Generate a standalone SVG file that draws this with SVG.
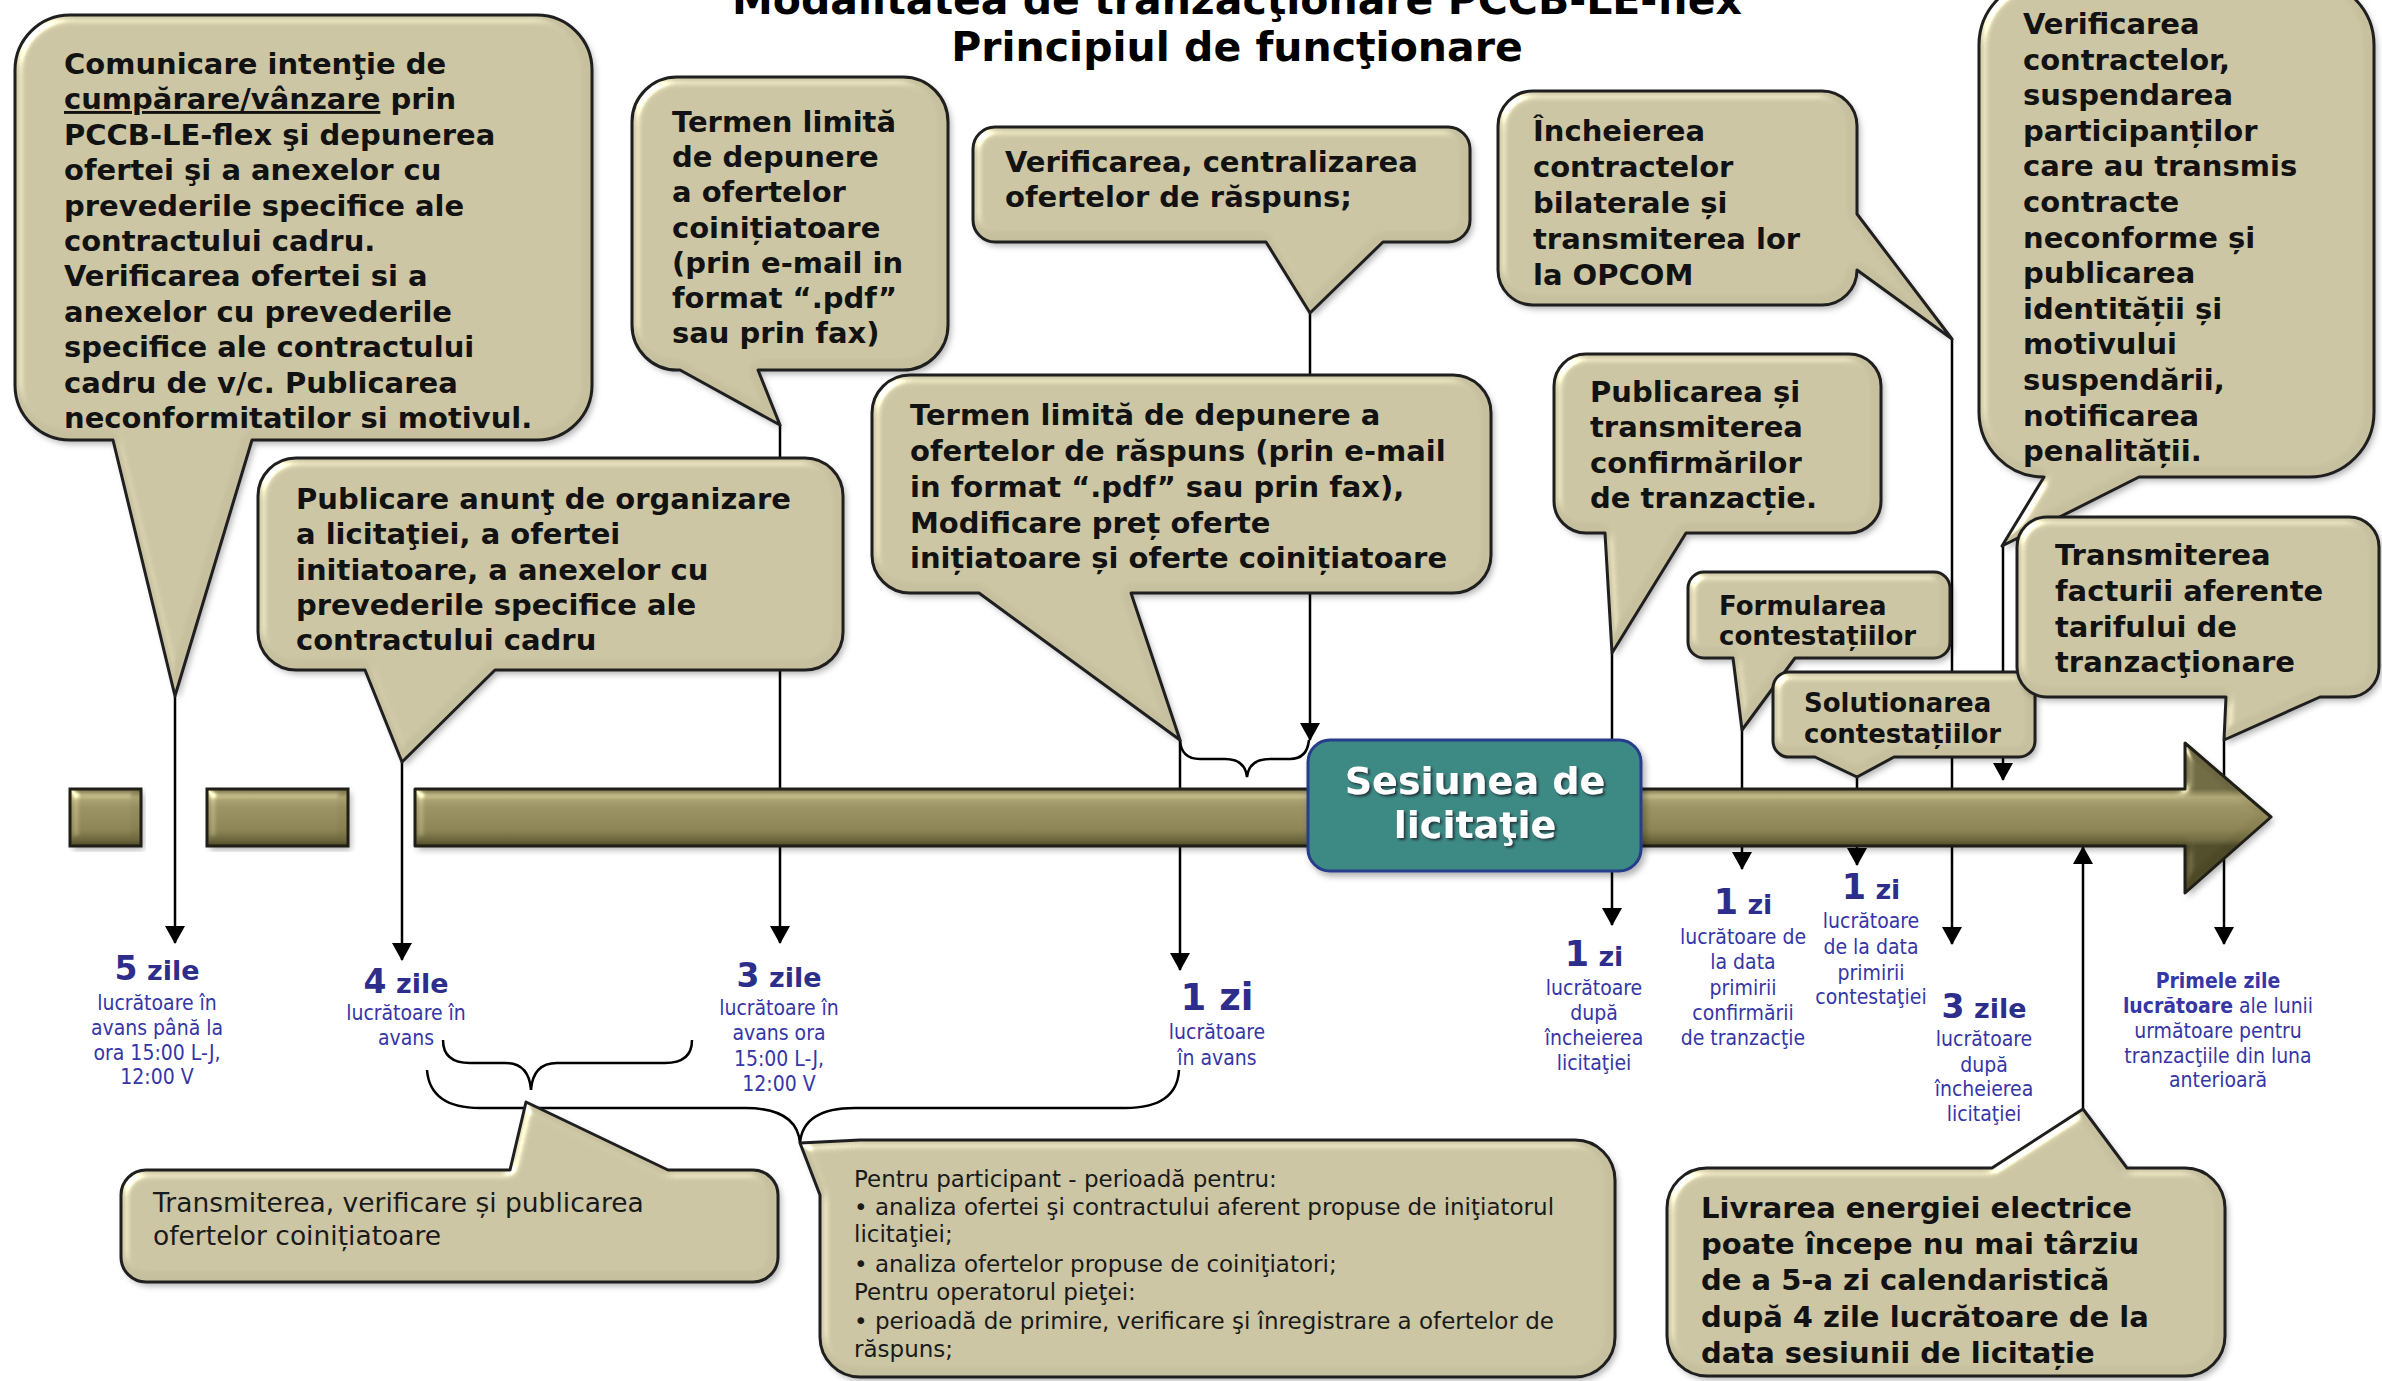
<svg xmlns="http://www.w3.org/2000/svg" xmlns:xlink="http://www.w3.org/1999/xlink" width="2382" height="1381" viewBox="0 0 2382 1381">
<style>
.t{font-family:"DejaVu Sans",Verdana,sans-serif;font-weight:bold;font-size:29px;fill:#121212}
.ts{font-size:26px}
.r{font-family:"DejaVu Sans",Verdana,sans-serif;font-weight:normal;fill:#1a1a1a}
.title{font-family:"DejaVu Sans",Verdana,sans-serif;font-weight:bold;font-size:41px;fill:#000;text-anchor:middle}
.fill{fill:#c6c09f}
.edge{fill:none;stroke:#1f1f1f;stroke-width:3;stroke-linejoin:round}
.con{stroke:#000;stroke-width:2.5;fill:none}
.arw{marker-end:url(#ah)}
.num{font-family:"DejaVu Sans",Verdana,sans-serif;font-weight:bold;fill:#2d2d8c;text-anchor:middle}
.sub{font-family:"DejaVu Sans Condensed","DejaVu Sans",sans-serif;font-size:21px;fill:#3636a6;text-anchor:middle}
.sb{font-weight:bold}
</style>
<defs>
<marker id="ah" viewBox="0 0 18 20" refX="17" refY="10" markerWidth="18" markerHeight="20" markerUnits="userSpaceOnUse" orient="auto"><path d="M0,0 L18,10 L0,20 Z" fill="#000"/></marker>
<filter id="bevel" x="-5%" y="-5%" width="112%" height="115%" color-interpolation-filters="sRGB">
<feGaussianBlur in="SourceAlpha" stdDeviation="5" result="b"/>
<feSpecularLighting in="b" surfaceScale="4" specularConstant="1" specularExponent="32" lighting-color="#fffbe8" result="s"><feDistantLight azimuth="225" elevation="40"/></feSpecularLighting>
<feComposite in="s" in2="SourceAlpha" operator="in" result="si"/>
<feComposite in="SourceGraphic" in2="si" operator="arithmetic" k1="0" k2="1" k3="0.55" k4="0" result="lit"/>
<feOffset in="SourceAlpha" dx="3" dy="4" result="o"/>
<feGaussianBlur in="o" stdDeviation="3" result="ob"/>
<feFlood flood-color="#000" flood-opacity="0.3"/>
<feComposite in2="ob" operator="in" result="sh"/>
<feMerge><feMergeNode in="sh"/><feMergeNode in="lit"/></feMerge>
</filter>
<filter id="tsh" x="-5%" y="-10%" width="110%" height="130%"><feDropShadow dx="2" dy="2" stdDeviation="1" flood-color="#1b2b33" flood-opacity="0.85"/></filter>
<filter id="shadow" x="-5%" y="-5%" width="112%" height="115%"><feDropShadow dx="3" dy="4" stdDeviation="3" flood-color="#000" flood-opacity="0.3"/></filter>
<linearGradient id="barg" gradientUnits="userSpaceOnUse" x1="0" y1="789" x2="0" y2="846">
<stop offset="0" stop-color="#6d6741"/><stop offset="0.14" stop-color="#aaa272"/><stop offset="0.32" stop-color="#968e5e"/><stop offset="0.7" stop-color="#888050"/><stop offset="0.9" stop-color="#6c663e"/><stop offset="1" stop-color="#4d4826"/>
</linearGradient>
<path id="pA" d="M70,15 H537 A55,55 0 0 1 592,70 V385 A55,55 0 0 1 537,440 H252 L175,696 L113,440 H70 A55,55 0 0 1 15,385 V70 A55,55 0 0 1 70,15 Z"/>
<path id="pB" d="M296,458 H805 A38,38 0 0 1 843,496 V632 A38,38 0 0 1 805,670 H495 L402,762 L365,670 H296 A38,38 0 0 1 258,632 V496 A38,38 0 0 1 296,458 Z"/>
<path id="pC" d="M677,77 H903 A45,45 0 0 1 948,122 V325 A45,45 0 0 1 903,370 H758 L780,425 L680,370 H677 A45,45 0 0 1 632,325 V122 A45,45 0 0 1 677,77 Z"/>
<path id="pD" d="M995,127 H1448 A22,22 0 0 1 1470,149 V220 A22,22 0 0 1 1448,242 H1383 L1310,313 L1266,242 H995 A22,22 0 0 1 973,220 V149 A22,22 0 0 1 995,127 Z"/>
<path id="pE" d="M910,375 H1453 A38,38 0 0 1 1491,413 V555 A38,38 0 0 1 1453,593 H1131 L1180,740 L979,593 H910 A38,38 0 0 1 872,555 V413 A38,38 0 0 1 910,375 Z"/>
<path id="pF" d="M1533,91 H1822 A35,35 0 0 1 1857,126 V214 L1952,339 L1857,270 A35,35 0 0 1 1822,305 H1533 A35,35 0 0 1 1498,270 V126 A35,35 0 0 1 1533,91 Z"/>
<path id="pG" d="M1586,354 H1849 A32,32 0 0 1 1881,386 V501 A32,32 0 0 1 1849,533 H1686 L1612,653 L1605,533 H1586 A32,32 0 0 1 1554,501 V386 A32,32 0 0 1 1586,354 Z"/>
<path id="pH" d="M1704,572 H1934 A16,16 0 0 1 1950,588 V642 A16,16 0 0 1 1934,658 H1795 L1742,730 L1733,658 H1704 A16,16 0 0 1 1688,642 V588 A16,16 0 0 1 1704,572 Z"/>
<path id="pI" d="M1789,672 H2019 A16,16 0 0 1 2035,688 V741 A16,16 0 0 1 2019,757 H1894 L1857,777 L1815,757 H1789 A16,16 0 0 1 1773,741 V688 A16,16 0 0 1 1789,672 Z"/>
<path id="pJ" d="M2044,-20 H2309 A65,65 0 0 1 2374,45 V412 A65,65 0 0 1 2309,477 H2139 L2002,546 L2044,477 A65,65 0 0 1 1979,412 V45 A65,65 0 0 1 2044,-20 Z"/>
<path id="pK" d="M2047,517 H2349 A30,30 0 0 1 2379,547 V667 A30,30 0 0 1 2349,697 H2320 L2224,740 L2226,697 H2047 A30,30 0 0 1 2017,667 V547 A30,30 0 0 1 2047,517 Z"/>
<path id="pL" d="M1707,1168 H1992 L2083,1109 L2127,1168 H2185 A40,40 0 0 1 2225,1208 V1336 A40,40 0 0 1 2185,1376 H1707 A40,40 0 0 1 1667,1336 V1208 A40,40 0 0 1 1707,1168 Z"/>
<path id="pM" d="M146,1170 H510 L526,1102 L668,1170 H753 A25,25 0 0 1 778,1195 V1257 A25,25 0 0 1 753,1282 H146 A25,25 0 0 1 121,1257 V1195 A25,25 0 0 1 146,1170 Z"/>
<path id="pN" d="M860,1140 H1575 A40,40 0 0 1 1615,1180 V1337 A40,40 0 0 1 1575,1377 H860 A40,40 0 0 1 820,1337 V1195 L800,1143 Z"/>
<path id="pBar" d="M415,789 H2185 V743 L2271,817 L2185,893 V846 H415 Z"/>
</defs>

<rect x="0" y="0" width="2382" height="1381" fill="#ffffff"/>

<g id="title">
<text class="title" x="1237" y="14">Modalitatea de tranzacţionare PCCB-LE-flex</text>
<text class="title" x="1237" y="61">Principiul de funcţionare</text>
</g>

<g id="connectors">
<path class="con arw" d="M175,696 V943"/>
<path class="con arw" d="M402,762 V960"/>
<path class="con arw" d="M780,425 V943"/>
<path class="con arw" d="M1310,313 V740"/>
<path class="con arw" d="M1180,740 V970"/>
<path class="con arw" d="M1952,339 V944"/>
<path class="con arw" d="M1612,653 V925"/>
<path class="con arw" d="M1742,730 V869"/>
<path class="con arw" d="M1857,777 V865"/>
<path class="con arw" d="M2003,546 V780"/>
<path class="con arw" d="M2224,740 V944"/>
<path class="con arw" d="M2083,1109 V847"/>
<path class="con" stroke-width="2" d="M1180,740 Q1181,759 1200,759 L1225,759 Q1245,759 1247,777 Q1249,759 1270,759 L1290,759 Q1307,759 1309,740"/>
<path class="con" stroke-width="2" d="M443,1040 Q443,1063 470,1063 L505,1063 Q529,1063 531,1090 Q533,1063 557,1063 L665,1063 Q692,1063 692,1040"/>
<path class="con" stroke-width="2" d="M427,1070 Q430,1108 480,1108 L745,1108 Q797,1108 800,1143 Q803,1108 855,1108 L1125,1108 Q1177,1108 1179,1070"/>
</g>

<g id="timeline">
<rect x="70" y="789" width="71" height="57" fill="url(#barg)" filter="url(#bevel)"/>
<rect x="70" y="789" width="71" height="57" fill="none" stroke="#1f1f18" stroke-width="3"/>
<rect x="207" y="789" width="141" height="57" fill="url(#barg)" filter="url(#bevel)"/>
<rect x="207" y="789" width="141" height="57" fill="none" stroke="#1f1f18" stroke-width="3"/>
<use xlink:href="#pBar" fill="url(#barg)" filter="url(#bevel)"/>
<use xlink:href="#pBar" fill="none" stroke="#1f1f18" stroke-width="3" stroke-linejoin="round"/>
</g>

<g id="node-comunicare">
<use xlink:href="#pA" class="fill" filter="url(#bevel)"/><use xlink:href="#pA" class="edge"/>
<text class="t" x="64" y="74">Comunicare intenţie de</text>
<text class="t" x="64" y="109"><tspan text-decoration="underline">cumpărare/vânzare</tspan> prin</text>
<text class="t" x="64" y="145">PCCB-LE-flex şi depunerea</text>
<text class="t" x="64" y="180">ofertei şi a anexelor cu</text>
<text class="t" x="64" y="216">prevederile specifice ale</text>
<text class="t" x="64" y="251">contractului cadru.</text>
<text class="t" x="64" y="286">Verificarea ofertei si a</text>
<text class="t" x="64" y="322">anexelor cu prevederile</text>
<text class="t" x="64" y="357">specifice ale contractului</text>
<text class="t" x="64" y="393">cadru de v/c. Publicarea</text>
<text class="t" x="64" y="428">neconformitatilor si motivul.</text>
</g>

<g id="node-publicare-anunt">
<use xlink:href="#pB" class="fill" filter="url(#bevel)"/><use xlink:href="#pB" class="edge"/>
<text class="t" x="296" y="509">Publicare anunţ de organizare</text>
<text class="t" x="296" y="544">a licitaţiei, a ofertei</text>
<text class="t" x="296" y="580">initiatoare, a anexelor cu</text>
<text class="t" x="296" y="615">prevederile specifice ale</text>
<text class="t" x="296" y="650">contractului cadru</text>
</g>

<g id="node-termen-coinitiatoare">
<use xlink:href="#pC" class="fill" filter="url(#bevel)"/><use xlink:href="#pC" class="edge"/>
<text class="t" x="672" y="132">Termen limită</text>
<text class="t" x="672" y="167">de depunere</text>
<text class="t" x="672" y="202">a ofertelor</text>
<text class="t" x="672" y="238">coinițiatoare</text>
<text class="t" x="672" y="273">(prin e-mail in</text>
<text class="t" x="672" y="308">format “.pdf”</text>
<text class="t" x="672" y="343">sau prin fax)</text>
</g>

<g id="node-verificarea-centralizarea">
<use xlink:href="#pD" class="fill" filter="url(#bevel)"/><use xlink:href="#pD" class="edge"/>
<text class="t" x="1005" y="172">Verificarea, centralizarea</text>
<text class="t" x="1005" y="207">ofertelor de răspuns;</text>
</g>

<g id="node-termen-raspuns">
<use xlink:href="#pE" class="fill" filter="url(#bevel)"/><use xlink:href="#pE" class="edge"/>
<text class="t" x="910" y="425">Termen limită de depunere a</text>
<text class="t" x="910" y="461">ofertelor de răspuns (prin e-mail</text>
<text class="t" x="910" y="497">in format “.pdf” sau prin fax),</text>
<text class="t" x="910" y="533">Modificare preț oferte</text>
<text class="t" x="910" y="568">inițiatoare și oferte coinițiatoare</text>
</g>

<g id="node-incheierea">
<use xlink:href="#pF" class="fill" filter="url(#bevel)"/><use xlink:href="#pF" class="edge"/>
<text class="t" x="1533" y="141">Încheierea</text>
<text class="t" x="1533" y="177">contractelor</text>
<text class="t" x="1533" y="213">bilaterale și</text>
<text class="t" x="1533" y="249">transmiterea lor</text>
<text class="t" x="1533" y="285">la OPCOM</text>
</g>

<g id="node-publicarea-confirmari">
<use xlink:href="#pG" class="fill" filter="url(#bevel)"/><use xlink:href="#pG" class="edge"/>
<text class="t" x="1590" y="402">Publicarea și</text>
<text class="t" x="1590" y="437">transmiterea</text>
<text class="t" x="1590" y="473">confirmărilor</text>
<text class="t" x="1590" y="508">de tranzacție.</text>
</g>

<g id="node-formularea">
<use xlink:href="#pH" class="fill" filter="url(#bevel)"/><use xlink:href="#pH" class="edge"/>
<text class="t ts" x="1719" y="615">Formularea</text>
<text class="t ts" x="1719" y="645">contestațiilor</text>
</g>

<g id="node-solutionarea">
<use xlink:href="#pI" class="fill" filter="url(#bevel)"/><use xlink:href="#pI" class="edge"/>
<text class="t ts" x="1804" y="712">Solutionarea</text>
<text class="t ts" x="1804" y="743">contestațiilor</text>
</g>

<g id="node-verificarea-contractelor">
<use xlink:href="#pJ" class="fill" filter="url(#bevel)"/><use xlink:href="#pJ" class="edge"/>
<text class="t" x="2023" y="34">Verificarea</text>
<text class="t" x="2023" y="70">contractelor,</text>
<text class="t" x="2023" y="105">suspendarea</text>
<text class="t" x="2023" y="141">participanților</text>
<text class="t" x="2023" y="176">care au transmis</text>
<text class="t" x="2023" y="212">contracte</text>
<text class="t" x="2023" y="248">neconforme și</text>
<text class="t" x="2023" y="283">publicarea</text>
<text class="t" x="2023" y="319">identității și</text>
<text class="t" x="2023" y="354">motivului</text>
<text class="t" x="2023" y="390">suspendării,</text>
<text class="t" x="2023" y="426">notificarea</text>
<text class="t" x="2023" y="461">penalității.</text>
</g>

<g id="node-factura">
<use xlink:href="#pK" class="fill" filter="url(#bevel)"/><use xlink:href="#pK" class="edge"/>
<text class="t" x="2055" y="565">Transmiterea</text>
<text class="t" x="2055" y="601">facturii aferente</text>
<text class="t" x="2055" y="637">tarifului de</text>
<text class="t" x="2055" y="672">tranzacţionare</text>
</g>

<g id="node-livrarea">
<use xlink:href="#pL" class="fill" filter="url(#bevel)"/><use xlink:href="#pL" class="edge"/>
<text class="t" x="1701" y="1218">Livrarea energiei electrice</text>
<text class="t" x="1701" y="1254">poate începe nu mai târziu</text>
<text class="t" x="1701" y="1290">de a 5-a zi calendaristică</text>
<text class="t" x="1701" y="1327">după 4 zile lucrătoare de la</text>
<text class="t" x="1701" y="1363">data sesiunii de licitație</text>
</g>

<g id="node-transmiterea-coinitiatoare">
<use xlink:href="#pM" class="fill" filter="url(#bevel)"/><use xlink:href="#pM" class="edge"/>
<text class="r" font-size="26.5" x="153" y="1212">Transmiterea, verificare și publicarea</text>
<text class="r" font-size="26.5" x="153" y="1245">ofertelor coinițiatoare</text>
</g>

<g id="node-perioada">
<use xlink:href="#pN" class="fill" filter="url(#bevel)"/><use xlink:href="#pN" class="edge"/>
<text class="r" font-size="23" x="854" y="1187">Pentru participant - perioadă pentru:</text>
<text class="r" font-size="23" x="854" y="1215">• analiza ofertei şi contractului aferent propuse de iniţiatorul</text>
<text class="r" font-size="23" x="854" y="1242">licitaţiei;</text>
<text class="r" font-size="23" x="854" y="1272">• analiza ofertelor propuse de coiniţiatori;</text>
<text class="r" font-size="23" x="854" y="1300">Pentru operatorul pieţei:</text>
<text class="r" font-size="23" x="854" y="1329">• perioadă de primire, verificare şi înregistrare a ofertelor de</text>
<text class="r" font-size="23" x="854" y="1357">răspuns;</text>
</g>

<g id="node-sesiunea">
<rect x="1308" y="740" width="333" height="131" rx="22" fill="#3e8983" stroke="#283d8a" stroke-width="3" filter="url(#shadow)"/>
<g filter="url(#tsh)" font-family="DejaVu Sans, Verdana, sans-serif" font-weight="bold" font-size="38" fill="#ffffff" text-anchor="middle">
<text x="1475" y="794">Sesiunea de</text>
<text x="1475" y="838">licitaţie</text>
</g>
</g>

<g id="label-5zile">
<text class="num" x="157" y="980"><tspan font-size="33">5</tspan><tspan font-size="27"> zile</tspan></text>
<text class="sub"><tspan x="157" y="1010">lucrătoare în</tspan><tspan x="157" y="1035">avans până la</tspan><tspan x="157" y="1060">ora 15:00 L-J,</tspan><tspan x="157" y="1084">12:00 V</tspan></text>
</g>
<g id="label-4zile">
<text class="num" x="406" y="993"><tspan font-size="33">4</tspan><tspan font-size="27"> zile</tspan></text>
<text class="sub"><tspan x="406" y="1020">lucrătoare în</tspan><tspan x="406" y="1045">avans</tspan></text>
</g>
<g id="label-3zile-avans">
<text class="num" x="779" y="987"><tspan font-size="33">3</tspan><tspan font-size="27"> zile</tspan></text>
<text class="sub"><tspan x="779" y="1015">lucrătoare în</tspan><tspan x="779" y="1040">avans ora</tspan><tspan x="779" y="1066">15:00 L-J,</tspan><tspan x="779" y="1091">12:00 V</tspan></text>
</g>
<g id="label-1zi-avans">
<text class="num" x="1217" y="1010" font-size="37">1 zi</text>
<text class="sub"><tspan x="1217" y="1039">lucrătoare</tspan><tspan x="1217" y="1065">în avans</tspan></text>
</g>
<g id="label-1zi-dupa">
<text class="num" x="1594" y="966"><tspan font-size="35">1</tspan><tspan font-size="27"> zi</tspan></text>
<text class="sub"><tspan x="1594" y="995">lucrătoare</tspan><tspan x="1594" y="1020">după</tspan><tspan x="1594" y="1045">încheierea</tspan><tspan x="1594" y="1070">licitaţiei</tspan></text>
</g>
<g id="label-1zi-confirmari">
<text class="num" x="1743" y="914"><tspan font-size="35">1</tspan><tspan font-size="27"> zi</tspan></text>
<text class="sub"><tspan x="1743" y="944">lucrătoare de</tspan><tspan x="1743" y="969">la data</tspan><tspan x="1743" y="995">primirii</tspan><tspan x="1743" y="1020">confirmării</tspan><tspan x="1743" y="1045">de tranzacţie</tspan></text>
</g>
<g id="label-1zi-contestatii">
<text class="num" x="1871" y="899"><tspan font-size="35">1</tspan><tspan font-size="27"> zi</tspan></text>
<text class="sub"><tspan x="1871" y="928">lucrătoare</tspan><tspan x="1871" y="954">de la data</tspan><tspan x="1871" y="980">primirii</tspan><tspan x="1871" y="1004">contestaţiei</tspan></text>
</g>
<g id="label-3zile-dupa">
<text class="num" x="1984" y="1018"><tspan font-size="33">3</tspan><tspan font-size="27"> zile</tspan></text>
<text class="sub"><tspan x="1984" y="1046">lucrătoare</tspan><tspan x="1984" y="1072">după</tspan><tspan x="1984" y="1096">încheierea</tspan><tspan x="1984" y="1121">licitaţiei</tspan></text>
</g>
<g id="label-primele">
<text class="sub"><tspan x="2218" y="988" class="sb">Primele  zile</tspan><tspan x="2218" y="1013"><tspan class="sb">lucrătoare</tspan> ale lunii</tspan><tspan x="2218" y="1038">următoare pentru</tspan><tspan x="2218" y="1063">tranzacţiile din luna</tspan><tspan x="2218" y="1087">anterioară</tspan></text>
</g>
</svg>
